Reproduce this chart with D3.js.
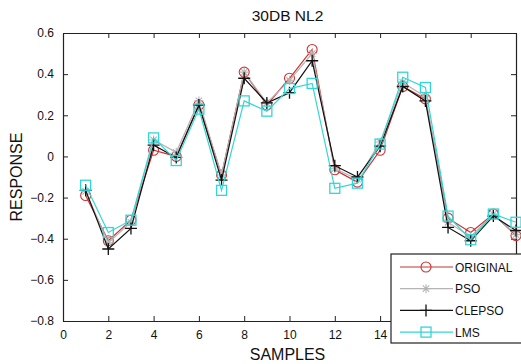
<!DOCTYPE html>
<html>
<head>
<meta charset="utf-8">
<script src="https://cdn.jsdelivr.net/npm/d3@7"></script>
<style>
  html, body { margin: 0; padding: 0; background: #fff; overflow: hidden; }
  svg { display: block; font-family: "Liberation Sans", Arial, sans-serif; }
</style>
</head>
<body>
<svg id="chart" width="521" height="364"></svg>
<script>
// Sample index and the four response traces
const samples  = [1,2,3,4,5,6,7,8,9,10,11,12,13,14,15,16,17,18,19,20];
const original = [-0.19,-0.41,-0.31,0.03,0.00,0.25,-0.09,0.41,0.25,0.38,0.52,-0.065,-0.125,0.03,0.34,0.28,-0.30,-0.37,-0.28,-0.385];
const pso      = [-0.17,-0.42,-0.32,0.08,0.02,0.27,-0.09,0.41,0.26,0.37,0.50,-0.06,-0.11,0.07,0.36,0.29,-0.32,-0.39,-0.28,-0.38];
const clepso   = [-0.165,-0.45,-0.35,0.055,-0.005,0.25,-0.115,0.38,0.26,0.31,0.465,-0.045,-0.10,0.05,0.34,0.27,-0.345,-0.41,-0.29,-0.36];
const lms      = [-0.14,-0.37,-0.31,0.09,-0.02,0.23,-0.165,0.27,0.22,0.33,0.355,-0.155,-0.13,0.06,0.385,0.335,-0.29,-0.405,-0.28,-0.32];

const xTicks = [0,2,4,6,8,10,12,14,16,18,20];
const xTickLabels = ["0","2","4","6","8","10","12","14","","",""]; // last ones sit under the legend
const yTicks = [-0.8,-0.6,-0.4,-0.2,0,0.2,0.4,0.6];
const seriesNames = ["ORIGINAL","PSO","CLEPSO","LMS"];

const series = [
  { name: seriesNames[0], values: original, color: "#cc3333", marker: "circle" },
  { name: seriesNames[1], values: pso,      color: "#b4b4b4", marker: "star" },
  { name: seriesNames[2], values: clepso,   color: "#111111", marker: "plus" },
  { name: seriesNames[3], values: lms,      color: "#33d6d6", marker: "square" }
];

const svg = d3.select("#chart");
const plotL = 63, plotR = 516, plotT = 33, plotB = 321;

const x = d3.scaleLinear().domain([0, 20]).range([plotL, plotR]);
const y = d3.scaleLinear().domain([-0.8, 0.6]).range([plotB, plotT]);

// Axes: MATLAB-style box with inward ticks on all four sides
const fmtY = d => (d === 0 ? "0" : d3.format(".1f")(d));
const axisStyle = g => {
  g.selectAll("path").attr("stroke", "#222").attr("stroke-width", 1.2);
  g.selectAll("line").attr("stroke", "#222");
  g.selectAll("text").attr("fill", "#111").style("font-size", "12px");
};

svg.append("g").attr("transform", `translate(0,${plotB})`)
  .call(d3.axisBottom(x).tickValues(xTicks).tickSizeInner(-5).tickSizeOuter(0).tickPadding(9)
    .tickFormat((d, i) => xTickLabels[i]))
  .call(axisStyle);
svg.append("g").attr("transform", `translate(0,${plotT})`)
  .call(d3.axisTop(x).tickValues(xTicks).tickSizeInner(-5).tickSizeOuter(0).tickFormat(""))
  .call(axisStyle);
svg.append("g").attr("transform", `translate(${plotL},0)`)
  .call(d3.axisLeft(y).tickValues(yTicks).tickSizeInner(-5).tickSizeOuter(0).tickPadding(9).tickFormat(fmtY))
  .call(axisStyle);
svg.append("g").attr("transform", `translate(${plotR},0)`)
  .call(d3.axisRight(y).tickValues(yTicks).tickSizeInner(-5).tickSizeOuter(0).tickFormat(""))
  .call(axisStyle);

// Marker glyphs
function drawMarker(g, type, cx, cy, color) {
  if (type === "circle") {
    g.append("circle").attr("cx", cx).attr("cy", cy).attr("r", 5)
      .attr("fill", "none").attr("stroke", color).attr("stroke-width", 1.1);
  } else if (type === "square") {
    g.append("rect").attr("x", cx - 5).attr("y", cy - 5).attr("width", 10).attr("height", 10)
      .attr("fill", "none").attr("stroke", color).attr("stroke-width", 1.3);
  } else if (type === "plus") {
    g.append("path").attr("d", `M${cx - 6},${cy}H${cx + 6}M${cx},${cy - 6}V${cy + 6}`)
      .attr("stroke", color).attr("stroke-width", 1.3);
  } else if (type === "star") {
    const r = 4.5, d = r * 0.72;
    g.append("path")
      .attr("d", `M${cx - r},${cy}H${cx + r}M${cx},${cy - r}V${cy + r}M${cx - d},${cy - d}L${cx + d},${cy + d}M${cx - d},${cy + d}L${cx + d},${cy - d}`)
      .attr("stroke", color).attr("stroke-width", 1.1);
  }
}

const line = d3.line().x((d, i) => x(samples[i])).y(d => y(d));

series.forEach(s => {
  const g = svg.append("g");
  g.append("path").datum(s.values).attr("d", line)
    .attr("fill", "none").attr("stroke", s.color).attr("stroke-width", 1.2);
  s.values.forEach((v, i) => drawMarker(g, s.marker, x(samples[i]), y(v), s.color));
});

// Title and axis labels
svg.append("text").attr("x", (plotL + plotR) / 2 - 2).attr("y", 21).attr("text-anchor", "middle")
  .style("font-size", "15.5px").attr("fill", "#111").text("30DB NL2");
svg.append("text").attr("x", (plotL + plotR) / 2 - 2).attr("y", 360).attr("text-anchor", "middle")
  .style("font-size", "16px").attr("fill", "#111").text("SAMPLES");
svg.append("text").attr("transform", `translate(22,${(plotT + plotB) / 2}) rotate(-90)`)
  .attr("text-anchor", "middle").style("font-size", "16px").attr("fill", "#111").text("RESPONSE");

// Legend box
const lg = svg.append("g");
lg.append("rect").attr("x", 391).attr("y", 254).attr("width", 140).attr("height", 89)
  .attr("fill", "#fff").attr("stroke", "#222").attr("stroke-width", 1.2);
series.forEach((s, i) => {
  const ly = 267 + i * 21.7;
  lg.append("line").attr("x1", 400).attr("x2", 453).attr("y1", ly).attr("y2", ly)
    .attr("stroke", s.color).attr("stroke-width", 1.2);
  drawMarker(lg, s.marker, 426, ly, s.color);
  lg.append("text").attr("x", 455).attr("y", ly + 4.5).style("font-size", "12px")
    .attr("fill", "#111").text(s.name);
});
</script>
</body>
</html>
